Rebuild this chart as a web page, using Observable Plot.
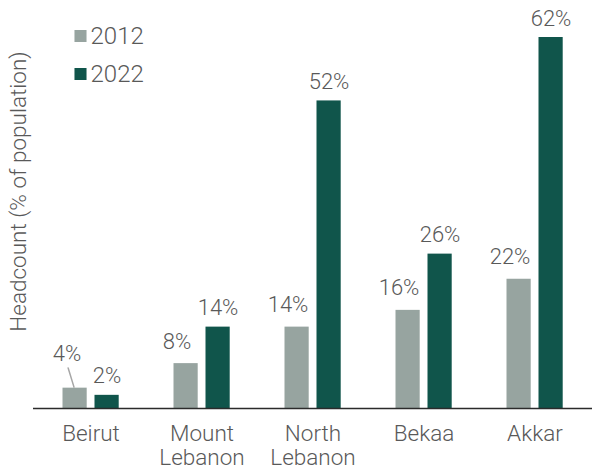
<!DOCTYPE html>
<html>
<head>
<meta charset="utf-8">
<script src="https://cdn.jsdelivr.net/npm/d3@7"></script>
<script src="https://cdn.jsdelivr.net/npm/@observablehq/plot@0.6"></script>
<style>
  html, body { margin: 0; padding: 0; background: #fff; }
</style>
</head>
<body>
<div id="chart"></div>
<script>
const regions = ["Beirut", "Mount\nLebanon", "North\nLebanon", "Bekaa", "Akkar"];
const series = ["2012", "2022"];
const values2012 = [3.4, 7.5, 13.6, 16.4, 21.6];
const values2022 = [2.2, 13.6, 51.4, 25.8, 62.0];
const labels2012 = ["4%", "8%", "14%", "16%", "22%"];
const labels2022 = ["2%", "14%", "52%", "26%", "62%"];
const colors = ["#97a4a0", "#10554b"];
const yLabel = "Headcount (% of population)";

const d2012 = regions.map((r, i) => ({region: r, value: values2012[i], label: labels2012[i]}));
const d2022 = regions.map((r, i) => ({region: r, value: values2022[i], label: labels2022[i]}));

const textColor = "#595959";
const fs = 22;

const chart = Plot.plot({
  width: 594,
  height: 474,
  marginLeft: 33,
  marginRight: 2,
  marginTop: 37,
  marginBottom: 66,
  style: {fontFamily: "Roboto, 'Liberation Sans', sans-serif", fontWeight: 300, background: "#fff"},
  x: {domain: regions, type: "band", paddingInner: 0, paddingOuter: 0, axis: null, label: null},
  y: {domain: [0, 62], axis: null},
  marks: [
    Plot.barY(d2012, {x: "region", y: "value", fill: colors[0], insetLeft: 27.5, insetRight: 59.3}),
    Plot.barY(d2022, {x: "region", y: "value", fill: colors[1], insetLeft: 59.5, insetRight: 27.3}),
    Plot.ruleY([0], {stroke: "#2b2b2b", strokeWidth: 1.6}),
    Plot.text(d2012.filter(d => d.region !== "Beirut"), {x: "region", y: "value", text: "label", dx: -25, dy: -15, lineAnchor: "bottom", fill: textColor, fontSize: fs}),
    Plot.text(d2012.filter(d => d.region === "Beirut"), {x: "region", y: "value", text: "label", dx: -24, dy: -27, lineAnchor: "bottom", fill: textColor, fontSize: fs}),
    Plot.vector(d2012.filter(d => d.region === "Beirut"), {x: "region", y: "value", anchor: "start", length: 20, rotate: -17, r: 0, dx: -17, dy: -1, stroke: "#a6a6a6", strokeWidth: 1.5}),
    Plot.text(d2022, {x: "region", y: "value", text: "label", dx: 16, dy: -12, lineAnchor: "bottom", fill: textColor, fontSize: fs}),
    Plot.axisX({tickSize: 0, tickPadding: 16, fontSize: 22.5, lineHeight: 1.05, fill: textColor, label: null}),
    Plot.text([yLabel], {frameAnchor: "left", rotate: -90, dx: -15, dy: -31.5, textAnchor: "middle", lineAnchor: "middle", fill: textColor, fontSize: 22.5}),
    Plot.dot([series[0]], {frameAnchor: "top-left", dx: 47, dy: -1.5, symbol: "square", r: 6.8, fill: colors[0]}),
    Plot.dot([series[1]], {frameAnchor: "top-left", dx: 47, dy: 36.5, symbol: "square", r: 6.8, fill: colors[1]}),
    Plot.text([series[0]], {frameAnchor: "top-left", dx: 57, dy: -1.5, textAnchor: "start", lineAnchor: "middle", fill: textColor, fontSize: 24}),
    Plot.text([series[1]], {frameAnchor: "top-left", dx: 57, dy: 36.5, textAnchor: "start", lineAnchor: "middle", fill: textColor, fontSize: 24})
  ]
});
document.getElementById("chart").appendChild(chart);
</script>
</body>
</html>
